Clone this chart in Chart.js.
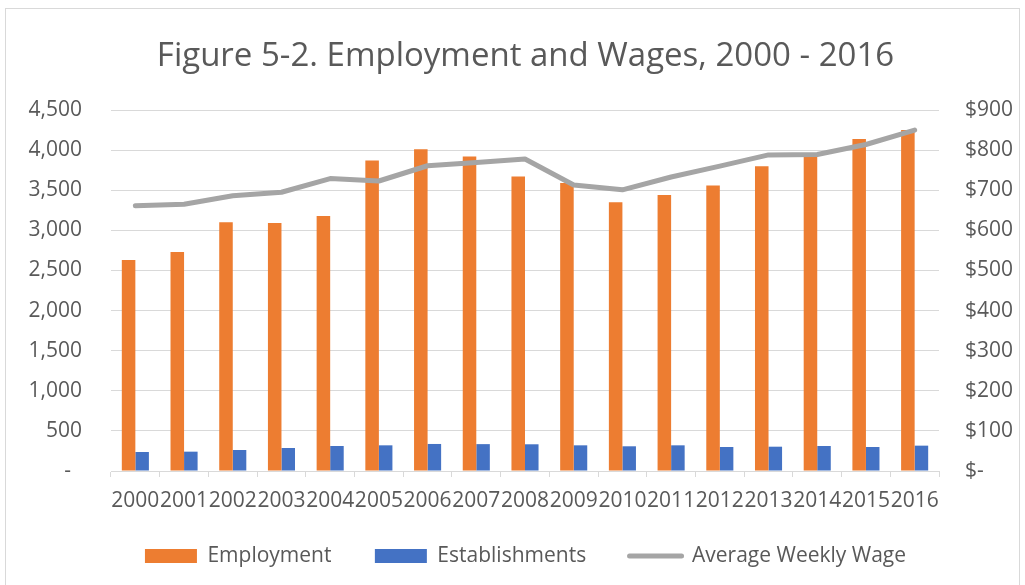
<!DOCTYPE html>
<html>
<head>
<meta charset="utf-8">
<title>Employment and Wages, 2000 - 2016</title>
<script src="https://cdn.jsdelivr.net/npm/chart.js@4"></script>
<style>
  html, body { margin: 0; padding: 0; background: #ffffff; }
  #wrap { position: relative; width: 1025px; height: 585px; overflow: hidden; }
  #chart { position: absolute; left: 0; top: 0; }
  #frame {
    position: absolute; left: 5px; top: 8px; width: 1013px; height: 640px;
    border: 1px solid #d9d9d9; pointer-events: none;
  }
</style>
</head>
<body>
<div id="wrap">
  <canvas id="chart" width="1025" height="585"></canvas>
  <div id="frame"></div>
</div>
<script>
// Categories and series
const years = ['2000', '2001', '2002', '2003', '2004', '2005', '2006', '2007', '2008',
               '2009', '2010', '2011', '2012', '2013', '2014', '2015', '2016'];
const employment = [2630, 2730, 3100, 3090, 3180, 3870, 4010, 3920, 3670,
                    3590, 3350, 3440, 3560, 3800, 3920, 4140, 4250];
const establishments = [237, 241, 262, 287, 312, 320, 337, 335, 333,
                        320, 308, 320, 299, 303, 312, 299, 316];
const weeklyWage = [661, 665, 686, 695, 729, 723, 761, 769, 778,
                    713, 701, 733, 760, 788, 789, 814, 850];

// Axis tick values
const countTicks = [0, 500, 1000, 1500, 2000, 2500, 3000, 3500, 4000, 4500];
const wageTicks = [0, 100, 200, 300, 400, 500, 600, 700, 800, 900];

const seriesNames = ['Employment', 'Establishments', 'Average Weekly Wage'];
const titleText = 'Figure 5-2. Employment and Wages, 2000 - 2016';

const ORANGE = '#ED7D31';
const BLUE = '#4472C4';
const GREY = '#A5A5A5';
const TEXT = '#595959';
const GRID = '#d9d9d9';
const FONT = "'Open Sans', 'Liberation Sans', sans-serif";

Chart.defaults.font.family = FONT;
Chart.defaults.color = TEXT;

new Chart(document.getElementById('chart'), {
  type: 'bar',
  data: {
    labels: years,
    datasets: [
      {
        type: 'line',
        label: seriesNames[2],
        data: weeklyWage,
        yAxisID: 'yWage',
        borderColor: GREY,
        backgroundColor: GREY,
        borderWidth: 5,
        borderCapStyle: 'round',
        borderJoinStyle: 'round',
        pointRadius: 0,
        pointHoverRadius: 0,
        tension: 0,
        fill: false,
        order: 0
      },
      {
        label: seriesNames[0],
        data: employment,
        yAxisID: 'yCount',
        backgroundColor: ORANGE,
        borderWidth: 0,
        barPercentage: 1,
        categoryPercentage: 0.556,
        order: 1
      },
      {
        label: seriesNames[1],
        data: establishments,
        yAxisID: 'yCount',
        backgroundColor: BLUE,
        borderWidth: 0,
        barPercentage: 1,
        categoryPercentage: 0.556,
        order: 1
      }
    ]
  },
  options: {
    responsive: false,
    animation: false,
    devicePixelRatio: 1,
    layout: { padding: { left: 26, right: 0, top: 0, bottom: 8.5 } },
    plugins: {
      tooltip: { enabled: false },
      title: {
        display: true,
        text: titleText,
        color: TEXT,
        font: { family: FONT, size: 33, weight: 'normal' },
        padding: { top: 37.2, bottom: 33.2 }
      },
      legend: {
        position: 'bottom',
        labels: {
          usePointStyle: true,
          pointStyleWidth: 52,
          boxHeight: 14,
          padding: 32.5,
          color: TEXT,
          font: { family: FONT, size: 21 },
          generateLabels(chart) {
            const ds = chart.data.datasets;
            const order = [1, 2, 0];
            return order.map((i, k) => {
              const d = ds[i];
              const isLine = d.type === 'line';
              // a little extra room after the first two entries
              const gap = k < order.length - 1 ? '\u00a0\u00a0' : '';
              return {
                text: d.label + gap,
                datasetIndex: i,
                fillStyle: isLine ? GREY : d.backgroundColor,
                strokeStyle: isLine ? GREY : d.backgroundColor,
                lineWidth: isLine ? 5 : 0,
                lineCap: 'round',
                pointStyle: isLine ? 'line' : 'rect',
                fontColor: TEXT,
                hidden: false
              };
            });
          }
        }
      }
    },
    scales: {
      x: {
        offset: true,
        afterFit(scale) { scale.height = 42; },
        grid: {
          offset: true,
          drawOnChartArea: false,
          drawTicks: true,
          tickLength: 6,
          color: GRID
        },
        border: { display: true, color: GRID, width: 1 },
        ticks: {
          autoSkip: false,
          maxRotation: 0,
          minRotation: 0,
          padding: 11,
          color: TEXT,
          font: { family: FONT, size: 21 }
        }
      },
      yCount: {
        position: 'left',
        min: 0,
        max: 4500,
        afterFit(scale) { scale.width = 85; },
        afterBuildTicks(scale) { scale.ticks = countTicks.map(v => ({ value: v })); },
        grid: { color: GRID, lineWidth: 1, drawTicks: false },
        border: { display: false },
        ticks: {
          padding: 29,
          color: TEXT,
          font: { family: FONT, size: 21 },
          callback: v => v === 0 ? '-  ' : v.toLocaleString('en-US')
        }
      },
      yWage: {
        position: 'right',
        min: 0,
        max: 900,
        afterFit(scale) { scale.width = 86; },
        afterBuildTicks(scale) { scale.ticks = wageTicks.map(v => ({ value: v })); },
        grid: { drawOnChartArea: false, drawTicks: false },
        border: { display: false },
        ticks: {
          padding: 26,
          color: TEXT,
          font: { family: FONT, size: 21 },
          callback: v => v === 0 ? '$-' : '$' + v
        }
      }
    }
  }
});
</script>
</body>
</html>
